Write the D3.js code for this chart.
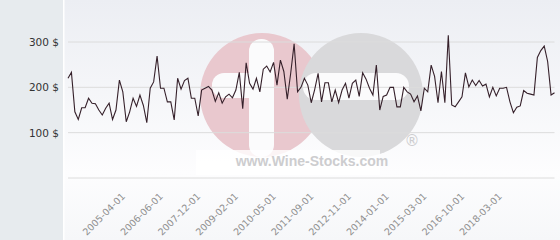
<!DOCTYPE html>
<html>
<head>
<meta charset="utf-8">
<script src="https://cdn.jsdelivr.net/npm/d3@7"></script>
<style>
  body { margin: 0; background: #fff; }
  svg { display: block; }
  .yaxis text { font-family: "DejaVu Sans", sans-serif; font-size: 10.5px; fill: #333; }
  .xaxis text { font-family: "DejaVu Sans", sans-serif; font-size: 9.5px; fill: #8f8f8f; }
</style>
</head>
<body>
<div id="chart-area"></div>
<script>
const W = 560, H = 240;

// monthly-ish price points ($)
const prices = [
  220, 233, 146, 129, 155, 155, 176, 165, 164, 150,
  139, 154, 165, 129, 150, 216, 190, 124, 146, 176,
  158, 183, 160, 122, 198, 212, 269, 198, 198, 168,
  168, 128, 220, 196, 215, 220, 176, 176, 137, 194,
  198, 202, 194, 169, 188, 165, 179, 185, 177, 194,
  233, 153, 254, 209, 196, 220, 190, 240, 247, 234,
  255, 205, 260, 235, 174, 231, 296, 190, 200, 220,
  205, 166, 195, 231, 168, 210, 210, 168, 194, 166,
  194, 209, 176, 209, 216, 180, 232, 218, 198, 183,
  249, 150, 180, 183, 200, 200, 157, 157, 200, 190,
  185, 168, 181, 148, 198, 190, 249, 224, 166, 235,
  166, 315, 161, 157, 168, 179, 232, 201, 216, 204,
  215, 203, 207, 179, 200, 181, 198, 198, 200, 168,
  144, 156, 159, 193, 187, 185, 183, 266, 281, 291,
  257, 183, 188
];

const tickIdx = [17, 28, 39, 50, 61, 72, 83, 94, 105, 116, 127];
const tickLabels = ["2005-04-01", "2006-06-01", "2007-12-01", "2009-02-01", "2010-05-01",
                    "2011-09-01", "2012-11-01", "2014-01-01", "2015-03-01", "2016-10-01", "2018-03-01"];

const yTicks = [100, 200, 300];
const yGrid = [0, 100, 200, 300];

var svg = d3.select("#chart-area").append("svg")
    .attr("width", W)
    .attr("height", H);

var defs = svg.append("defs");
var grad = defs.append("linearGradient")
    .attr("id", "bg").attr("x1", 0).attr("y1", 0).attr("x2", 0).attr("y2", 1);
grad.append("stop").attr("offset", "0%").attr("stop-color", "#eceef3");
grad.append("stop").attr("offset", "72%").attr("stop-color", "#fdfdfe");
grad.append("stop").attr("offset", "100%").attr("stop-color", "#f6f7f9");

// backgrounds
svg.append("rect").attr("x", 0).attr("y", 0).attr("width", 63).attr("height", H).attr("fill", "#e7ebee");
svg.append("rect").attr("x", 63).attr("y", 0).attr("width", W - 63).attr("height", H).attr("fill", "url(#bg)");
svg.append("rect").attr("x", 63).attr("y", 0).attr("width", 1.5).attr("height", H).attr("fill", "#ffffff");

var xScale = d3.scaleLinear()
    .domain([0, prices.length - 1])
    .range([68, 554.5]);
var yScale = d3.scaleLinear()
    .domain([0, 300])
    .range([178, 42]);

// watermark
var wm = svg.append("g").attr("class", "watermark");
wm.append("circle").attr("cx", 262).attr("cy", 95).attr("r", 62).attr("fill", "#e9c8ce");
wm.append("circle").attr("cx", 361).attr("cy", 95).attr("r", 62).attr("fill", "#d9d9db");
wm.append("rect").attr("x", 249).attr("y", 39).attr("width", 25).attr("height", 118).attr("rx", 12).attr("fill", "#fbfbfc");
wm.append("rect").attr("x", 212).attr("y", 73).attr("width", 50).attr("height", 25).attr("rx", 12).attr("fill", "#fbfbfc");
wm.append("rect").attr("x", 303).attr("y", 73).attr("width", 106).attr("height", 27).attr("rx", 13).attr("fill", "#fbfbfc");
wm.append("rect").attr("x", 196).attr("y", 150).attr("width", 184).attr("height", 25).attr("fill", "#ffffff").attr("opacity", 0.8);
wm.append("text")
    .attr("x", 312).attr("y", 166)
    .attr("text-anchor", "middle")
    .attr("font-family", "Liberation Sans, Arial, sans-serif")
    .attr("font-weight", "bold")
    .attr("font-size", 14)
    .attr("fill", "#cdcdcf")
    .text("www.Wine-Stocks.com");
wm.append("text")
    .attr("x", 412).attr("y", 146)
    .attr("text-anchor", "middle")
    .attr("font-family", "DejaVu Sans, sans-serif")
    .attr("font-size", 15)
    .attr("fill", "#cdcdcf")
    .text("®");

// grid
svg.append("g")
   .selectAll("line")
   .data(yGrid)
   .enter()
   .append("line")
   .attr("x1", 68).attr("x2", 554.5)
   .attr("y1", d => yScale(d)).attr("y2", d => yScale(d))
   .attr("stroke", "#dcdcdc").attr("stroke-width", 1);

var yAxis = d3.axisLeft(yScale)
    .tickValues(yTicks)
    .tickFormat(d => d + " $")
    .tickSize(0)
    .tickPadding(3);

svg.append("g")
   .attr("class", "yaxis")
   .attr("transform", "translate(62,0)")
   .call(yAxis)
   .call(g => g.select(".domain").remove());

var xAxis = d3.axisBottom(xScale)
    .tickValues(tickIdx)
    .tickFormat((d, i) => tickLabels[i])
    .tickSize(0);

svg.append("g")
   .attr("class", "xaxis")
   .attr("transform", "translate(0,178)")
   .call(xAxis)
   .call(g => g.select(".domain").remove())
   .selectAll("text")
   .attr("x", 0).attr("y", 0).attr("dy", 0)
   .attr("text-anchor", "end")
   .attr("transform", "translate(-1,19) rotate(-45)");

// price line
var line = d3.line()
    .x((d, i) => xScale(i))
    .y(d => yScale(d));

svg.append("path")
   .datum(prices)
   .attr("fill", "none")
   .attr("stroke", "#35202a")
   .attr("stroke-width", 1.1)
   .attr("d", line);
</script>
</body>
</html>
